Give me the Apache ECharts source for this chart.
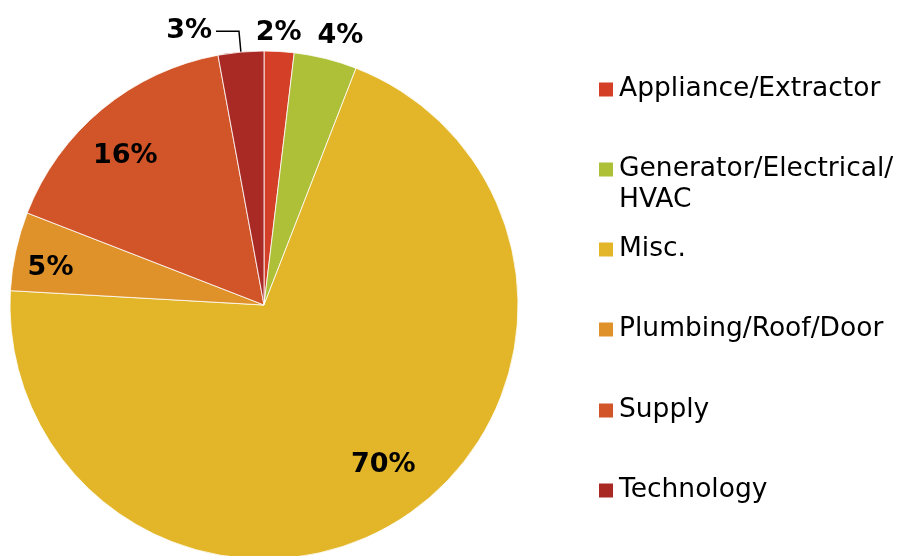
<!DOCTYPE html>
<html>
<head>
<meta charset="utf-8">
<script src="https://cdn.jsdelivr.net/npm/echarts@6/dist/echarts.min.js"></script>
<style>
  html, body { margin: 0; padding: 0; background: #fff; }
  #chart { width: 899px; height: 556px; }
</style>
</head>
<body>
<div id="chart"></div>
<script>
// data
const categories = ['Appliance/Extractor', 'Generator/Electrical/HVAC', 'Misc.', 'Plumbing/Roof/Door', 'Supply', 'Technology']
const shares = [1.9, 4.0, 70.0, 5.0, 16.2, 2.9]
const palette = ['#D34027', '#AEBF38', '#E2B628', '#E0922A', '#D15528', '#A92A24']

// where each slice label goes
const innerLabels = ['Misc.', 'Plumbing/Roof/Door', 'Supply']
const rimLabels = ['Appliance/Extractor', 'Generator/Electrical/HVAC']
const leaderLabels = ['Technology']
// small nudges so the labels sit where the reference has them
const nudge = {
  'Misc.': [5, -18],
  'Supply': [-4, 14],
  'Plumbing/Roof/Door': [-7, 8],
  'Appliance/Extractor': [-2, 5],
  'Generator/Electrical/HVAC': [9, 1]
}

const center = [264, 305]
const R = 254
const font = 'DejaVu Sans'
const pct = p => Math.round(p.percent) + '%'
const clear = 'rgba(0,0,0,0)'

const labelStyle = {
  color: '#000',
  fontFamily: font,
  fontWeight: 'bold',
  fontSize: 27,
  formatter: pct
}

const nudgeLayout = params => {
  const d = nudge[categories[params.dataIndex]]
  return d ? { dx: d[0], dy: d[1] } : {}
}

// one legend box per entry so the spacing follows the reference
const legendTops = [74, 123, 234, 314, 395, 475]
const legends = categories.map((name, i) => ({
  data: [name],
  orient: 'vertical',
  left: 597,
  top: legendTops[i],
  padding: 0,
  itemGap: 0,
  itemWidth: 16,
  itemHeight: 16,
  icon: 'rect',
  selectedMode: false,
  // blank first line keeps the icon beside the first text line
  formatter: n => n === 'Generator/Electrical/HVAC' ? '\nGenerator/Electrical/\nHVAC' : n,
  textStyle: {
    color: '#000',
    fontFamily: font,
    fontSize: 26.5,
    lineHeight: 31
  }
}))

const chart = echarts.init(document.getElementById('chart'))
chart.setOption({
  animation: false,
  color: palette,
  legend: legends,
  series: [{
    // the visible pie
    type: 'pie',
    center: center,
    radius: [0, R],
    startAngle: 90,
    silent: true,
    label: { show: false },
    labelLine: { show: false },
    itemStyle: { borderColor: '#fff', borderWidth: 0.8 },
    data: categories.map((name, i) => ({ name, value: shares[i] }))
  }, {
    // label ring for the inner labels and the leader label
    type: 'pie',
    center: center,
    radius: [R * 0.64, R],
    startAngle: 90,
    silent: true,
    avoidLabelOverlap: false,
    itemStyle: { color: clear },
    label: Object.assign({ show: false, position: 'inside' }, labelStyle),
    labelLine: { show: false },
    labelLayout: nudgeLayout,
    data: categories.map((name, i) => {
      const item = { name, value: shares[i] }
      if (innerLabels.includes(name)) {
        item.label = { show: true, position: 'inside' }
      } else if (leaderLabels.includes(name)) {
        item.label = { show: true, position: 'outside', distanceToLabelLine: 4 }
        item.labelLine = {
          show: true,
          length: 21,
          length2: 23,
          lineStyle: { color: '#000', width: 1.5 }
        }
      }
      return item
    })
  }, {
    // ring just outside the pie for the small top labels
    type: 'pie',
    center: center,
    radius: [R, R + 42],
    startAngle: 90,
    silent: true,
    avoidLabelOverlap: false,
    itemStyle: { color: clear },
    label: Object.assign({ show: false, position: 'inside' }, labelStyle),
    labelLine: { show: false },
    labelLayout: nudgeLayout,
    data: categories.map((name, i) => {
      const item = { name, value: shares[i] }
      if (rimLabels.includes(name)) item.label = { show: true, position: 'inside' }
      return item
    })
  }]
})
</script>
</body>
</html>
